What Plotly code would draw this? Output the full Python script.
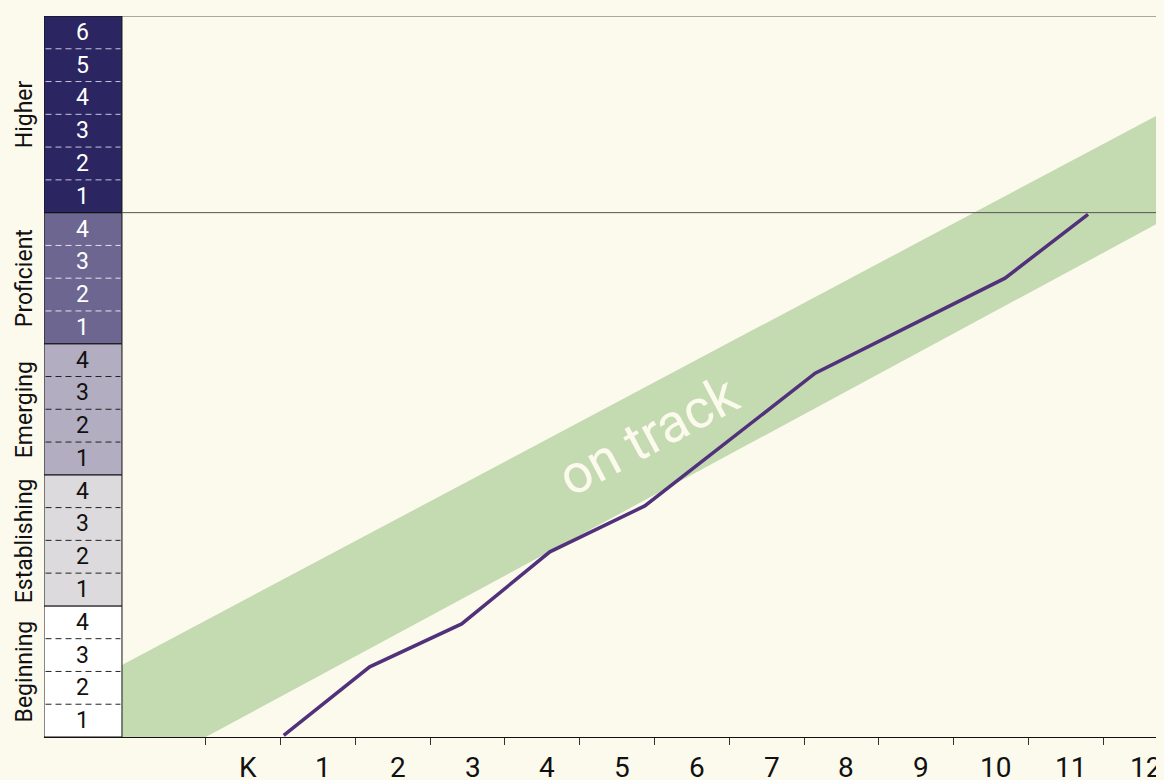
import plotly.graph_objects as go

# ---- data ----
grades = ["K", "1", "2", "3", "4", "5", "6", "7", "8", "9", "10", "11", "12"]
level_names = ["Beginning", "Establishing", "Emerging", "Proficient", "Higher"]
level_sizes = [4, 4, 4, 4, 6]
level_colors = ["#FFFFFF", "#DCDADC", "#B2ADC0", "#6C6690", "#2B2562"]
level_text_colors = ["#111111", "#111111", "#111111", "#FFFFFF", "#FFFFFF"]
level_dash_colors = ["#222222", "#222222", "#222222", "#E6E4F0", "#C9C7DA"]

# student progress (grade position, level units)
progress_x = [1.04, 2.19, 3.42, 4.60, 5.87, 8.15, 10.69, 11.80]
progress_y = [0.05, 2.14, 3.45, 5.65, 7.05, 11.10, 14.00, 15.95]

# on-track band edges
band_x = [-1.124, 13.0]
band_low = [-1.38, 16.0]
band_high = [2.2, 19.3]

BG = "#FCFAED"
XMIN, XMAX = -2.167, 12.816
COL_L, COL_R = -2.167, -1.124
YMAX = sum(level_sizes)
PROF_TOP = sum(level_sizes[:4])

fig = go.Figure()

# on-track band
fig.add_trace(go.Scatter(
    x=band_x + band_x[::-1],
    y=band_low + band_high[::-1],
    fill="toself", fillcolor="#C4DBB2", line=dict(width=0),
    mode="lines", hoverinfo="skip", showlegend=False))

# progress line
fig.add_trace(go.Scatter(
    x=progress_x, y=progress_y, mode="lines",
    line=dict(color="#52317B", width=3.5), showlegend=False))

shapes = []
annotations = []
base = 0
for name, size, col, tcol, dcol in zip(level_names, level_sizes, level_colors,
                                       level_text_colors, level_dash_colors):
    shapes.append(dict(type="rect", xref="x", yref="y", x0=COL_L, x1=COL_R,
                       y0=base, y1=base + size, fillcolor=col,
                       line=dict(color="#111111", width=1), layer="above"))
    for k in range(1, size):
        shapes.append(dict(type="line", xref="x", yref="y", x0=COL_L + 0.02, x1=COL_R - 0.02,
                           y0=base + k, y1=base + k,
                           line=dict(color=dcol, width=1, dash="6px,4px"), layer="above"))
    for k in range(size):
        annotations.append(dict(x=(COL_L + COL_R) / 2, y=base + k + 0.5, xref="x", yref="y",
                                xanchor="center", yanchor="middle",
                                text=str(k + 1), showarrow=False,
                                font=dict(family="Roboto", size=23, color=tcol)))
    annotations.append(dict(x=-0.0179, y=base + size / 2, xref="paper", yref="y",
                            xanchor="center", yanchor="middle",
                            text=name, textangle=-90, showarrow=False,
                            font=dict(family="Roboto", size=23, color="#111111")))
    base += size

# horizontal reference lines
for yv in [PROF_TOP, YMAX]:
    shapes.append(dict(type="line", xref="x", yref="y", x0=COL_R, x1=XMAX + 1,
                       y0=yv, y1=yv, line=dict(color="#555555", width=1), layer="above"))

# grade labels
for i, g in enumerate(grades):
    annotations.append(dict(x=i + 0.5, y=0, xref="x", yref="paper", yanchor="top",
                            xanchor="center",
                            xshift=5, yshift=-12, text=g, showarrow=False,
                            font=dict(family="Roboto", size=28, color="#111111")))

annotations.append(dict(x=5.92, y=9.2, xref="x", yref="y", text="on track",
                        xanchor="center", yanchor="middle",
                        textangle=-28, showarrow=False,
                        font=dict(family="Roboto", size=54, color=BG)))

fig.update_layout(
    width=1164, height=772,
    margin=dict(l=36, r=8, t=8, b=43, autoexpand=False),
    paper_bgcolor=BG, plot_bgcolor=BG,
    shapes=shapes, annotations=annotations,
    xaxis=dict(range=[XMIN, XMAX], showgrid=False, zeroline=False,
               showline=True, linecolor="#111111", linewidth=1,
               tickmode="array", tickvals=list(range(len(grades))),
               ticks="outside", ticklen=7, tickcolor="#333333",
               showticklabels=False, fixedrange=True),
    yaxis=dict(range=[0, YMAX], showgrid=False, zeroline=False, showline=False,
               showticklabels=False, ticks="", fixedrange=True),
)

fig.write_html("out.html",
               post_script="document.body.style.background='" + BG + "';"
                           "document.documentElement.style.background='" + BG + "';")
